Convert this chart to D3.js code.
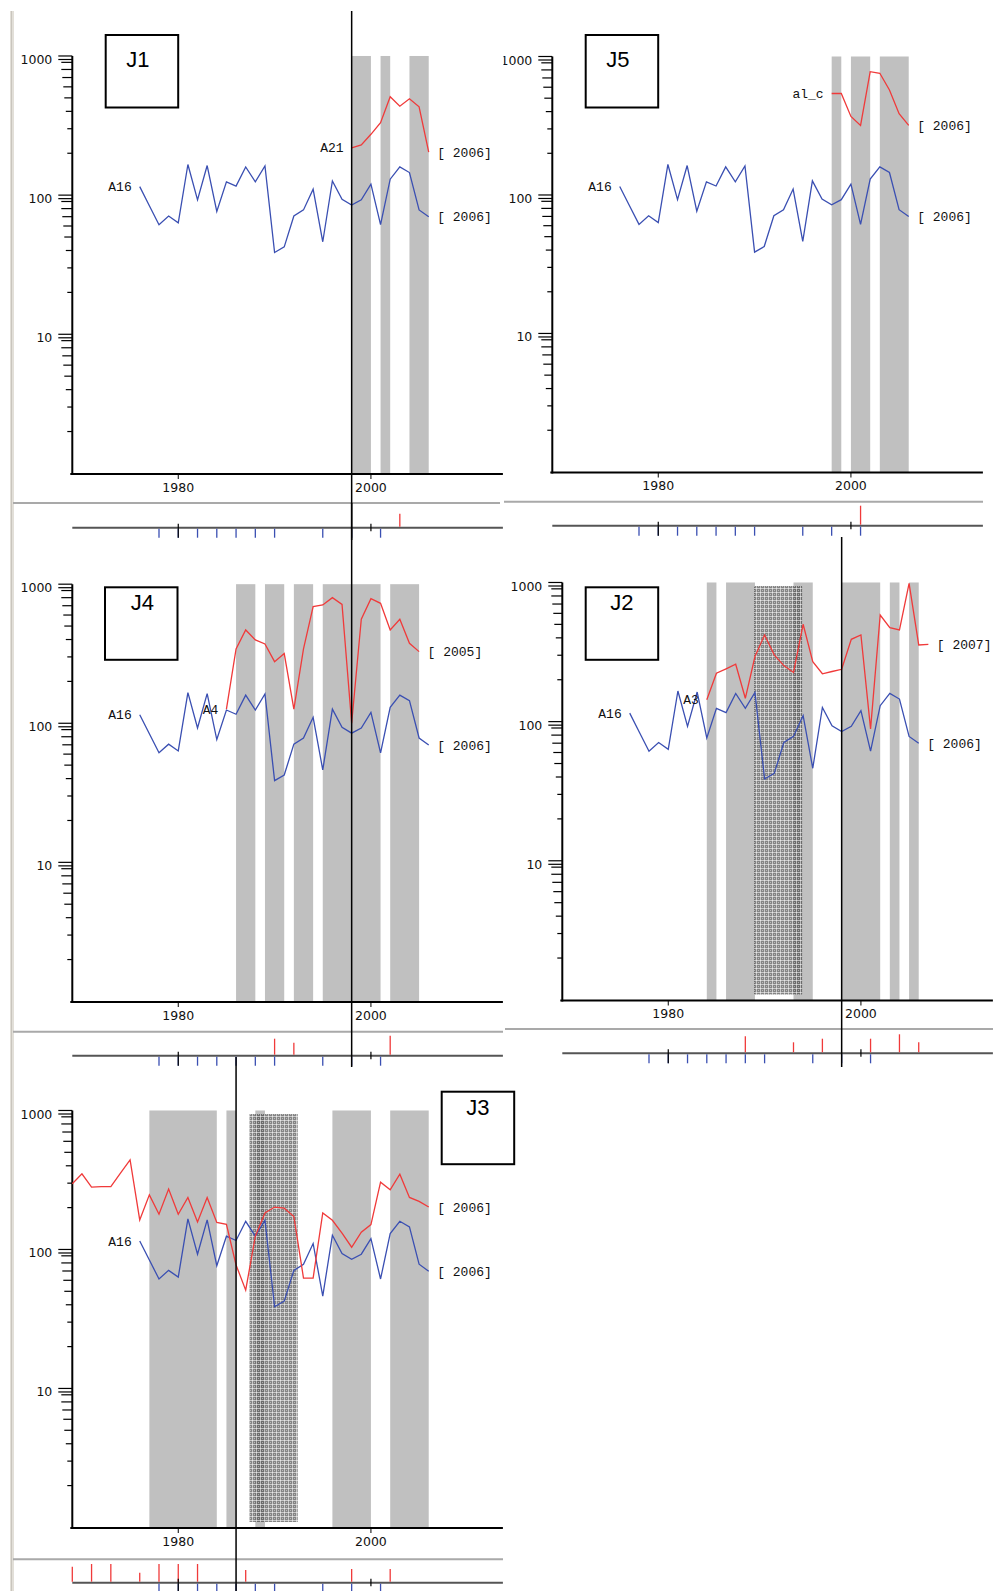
<!DOCTYPE html>
<html>
<head>
<meta charset="utf-8">
<script src="https://cdn.jsdelivr.net/npm/d3@7"></script>
<style>
  body { margin: 0; background: #fff; overflow: hidden; }
  .mono { font-family: "Liberation Mono", "DejaVu Sans Mono", monospace; font-size: 13px; fill: #111; }
  .tick-label { font-family: "DejaVu Sans", sans-serif; font-size: 12.5px; fill: #111; }
  .box-label { font-family: "Liberation Sans", Arial, sans-serif; font-size: 22px; fill: #000; }
</style>
</head>
<body>
<div id="chart"></div>
<script>
// ---- data ----
const xDomain = [1969, 2013.7];
const xTicks = [1980, 2000];
const yMajor = [10, 100, 1000];
const yMinorSteps = [2, 3, 4, 5, 6, 7, 8, 9];

// common series (1976-2006)
const a16Start = 1976;
const a16 = [122, 89, 65, 75, 67, 176, 98, 173, 81, 132, 123, 169, 132, 172, 41, 45,
  75, 83, 117, 49, 134, 99, 90, 98, 127, 65, 138, 169, 154, 83, 74];

const a21Start = 1998;
const a21 = [232, 243, 290, 351, 540, 462, 522, 457, 216];

const alcStart = 1998;
const alc = [573, 573, 391, 337, 824, 802, 608, 409, 337];

const a4Start = 1985;
const a4 = [134, 363, 497, 421, 394, 294, 336, 134, 363, 731, 751, 848, 759, 106,
  593, 834, 772, 497, 593, 398, 347];

const a3Start = 1984;
const a3 = [152, 236, 254, 274, 156, 311, 445, 320, 268, 239, 531, 286, 234, 243,
  252, 414, 445, 94, 619, 502, 483, 1045, 377, 381];

const j3RedStart = 1969;
const j3Red = [315, 371, 298, 300, 300, 375, 468, 173, 262, 190, 288, 190, 251, 167,
  251, 166, 161, 82, 54, 132, 194, 214, 210, 183, 66, 66, 194, 172, 139, 110, 141,
  160, 323, 285, 369, 251, 235, 214];

// shaded periods [from, to]
const bandsJ1 = [[1998, 2000], [2001, 2002], [2004, 2006]];
const bandsJ5 = [[1998, 1999], [2000, 2002], [2003, 2006]];
const bandsJ4 = [[1986, 1988], [1989, 1991], [1992, 1994], [1995, 2001], [2002, 2005]];
const bandsJ2 = [[1984, 1985], [1986, 1989], [1993, 1995], [1998, 2002], [2003, 2004], [2005, 2006]];
const bandsJ3 = [[1977, 1984], [1985, 1986], [1988, 1989], [1996, 2000], [2002, 2006]];
const hatchJ2 = [1988.9, 1993.9];
const hatchJ3 = [1987.4, 1992.4];

// event strips
const blueEvents = [1978, 1980, 1982, 1984, 1986, 1988, 1990, 1995, 1998, 2001];
const blackEvents = [1980, 2000];
const redJ1 = [[2003, 14]];
const redJ5 = [[2001, 20]];
const redJ4 = [[1990, 17], [1992, 13], [2002, 20]];
const redJ2 = [[1988, 17], [1993, 11], [1996, 14.6], [2001, 14.6], [2004, 19], [2006, 11]];
const redJ3 = [[1969, 16], [1971, 18.7], [1973, 18.7], [1976, 10], [1978, 18.7], [1980, 18.7],
  [1982, 18.7], [1987, 12.7], [1998, 13.7], [2002, 13.7]];

const bandTop = 1060;
const yBottom = 1.05;
const hatchBottom = 1.16;
const tickShift = 1.06;

const blue = '#3a4fb2';
const red = '#f03a3a';

const toSeries = (start, vals) => vals.map((v, i) => ({ year: start + i, value: v }));

const panels = [
  { name: 'J1', dx: 0, y1000: 59.5, yBot: 474, box: [105.7, 35], boxDx: -4, boxDy: 31.7,
    series: [
      { label: 'A16', color: blue, data: toSeries(a16Start, a16) },
      { label: 'A21', color: red, data: toSeries(a21Start, a21) }],
    bands: bandsJ1, hatch: null, red: redJ1,
    sep: { y: 503, x0: 13, x1: 500 }, stripY: 527.7, marker: { year: 1998, y0: 11, y1: 540 } },
  { name: 'J5', dx: 480, y1000: 60, yBot: 472.5, box: [585.7, 35], boxDx: -4, boxDy: 31.7, clip: true,
    series: [
      { label: 'A16', color: blue, data: toSeries(a16Start, a16) },
      { label: 'al_c', color: red, data: toSeries(alcStart, alc) }],
    bands: bandsJ5, hatch: null, red: redJ5,
    sep: { y: 501.7, x0: 504, x1: 983 }, stripY: 525.7, marker: null },
  { name: 'J4', dx: 0, y1000: 587.7, yBot: 1002, box: [105, 587.3], boxDx: 1, boxDy: 23,
    series: [
      { label: 'A16', color: blue, data: toSeries(a16Start, a16) },
      { label: 'A4', color: red, data: toSeries(a4Start, a4) }],
    bands: bandsJ4, hatch: null, red: redJ4,
    sep: { y: 1031.7, x0: 13, x1: 503 }, stripY: 1055.7, marker: { year: 1998, y0: 503, y1: 1067 } },
  { name: 'J2', dx: 490, y1000: 586, yBot: 1000.5, box: [585.7, 587.3], boxDx: 0, boxDy: 23, clip: true,
    series: [
      { label: 'A16', color: blue, data: toSeries(a16Start, a16) },
      { label: 'A3', color: red, data: toSeries(a3Start, a3) }],
    bands: bandsJ2, hatch: hatchJ2, red: redJ2,
    sep: { y: 1029, x0: 505, x1: 993 }, stripY: 1053.3, marker: { year: 1998, y0: 537, y1: 1067 } },
  { name: 'J3', dx: 0, y1000: 1114, yBot: 1528, box: [441.7, 1091.7], boxDx: 0, boxDy: 23,
    series: [
      { label: 'A16', color: blue, data: toSeries(a16Start, a16) },
      { label: null, color: red, data: toSeries(j3RedStart, j3Red) }],
    bands: bandsJ3, hatch: hatchJ3, red: redJ3,
    sep: { y: 1559.3, x0: 13, x1: 503 }, stripY: 1582.7, marker: { year: 1986, y0: 1057, y1: 1591 } }
];

const $svg = d3.select('#chart').append('svg')
  .attr('width', 993)
  .attr('height', 1591);

const defs = $svg.append('defs');
const pat = defs.append('pattern')
  .attr('id', 'hatch')
  .attr('width', 4).attr('height', 4)
  .attr('patternUnits', 'userSpaceOnUse');
pat.append('rect').attr('width', 4).attr('height', 4).attr('fill', 'rgba(50,50,50,0.6)');
pat.append('rect').attr('width', 1).attr('height', 4).attr('fill', 'rgba(255,255,255,0.55)');
pat.append('rect').attr('width', 4).attr('height', 1).attr('fill', 'rgba(255,255,255,0.55)');
pat.append('rect').attr('x', 2).attr('y', 2).attr('width', 1).attr('height', 1).attr('fill', 'rgba(255,255,255,0.45)');

defs.append('clipPath').attr('id', 'clipR')
  .append('rect').attr('x', 503.5).attr('y', 0).attr('width', 490).attr('height', 1591);

// left window border
$svg.append('rect').attr('x', 10).attr('y', 11).attr('width', 4).attr('height', 1580).attr('fill', '#e2dfd8');
$svg.append('line').attr('x1', 11.5).attr('x2', 11.5).attr('y1', 11).attr('y2', 1591)
  .attr('stroke', '#c9c5bd').attr('stroke-width', 1);

const minorLen = d3.scaleOrdinal().domain(yMinorSteps).range([5, 5, 6.5, 8, 9, 10, 11, 11]);
const redLen = d3.scaleLinear().domain([0, 20]).range([0, 20]);

function drawPanel(p) {
  const g = $svg.append('g').attr('clip-path', p.clip ? 'url(#clipR)' : null);

  const x = d3.scaleLinear().domain(xDomain).range([72.3 + p.dx, 502.9 + p.dx]);
  const y = d3.scaleLog().domain([yBottom, 1000]).range([p.yBot, p.y1000]);
  const x0 = x(xDomain[0]);

  // shaded periods
  g.append('g').selectAll('rect')
    .data(p.bands)
    .join('rect')
    .attr('x', d => x(d[0]))
    .attr('width', d => x(d[1]) - x(d[0]))
    .attr('y', y(bandTop))
    .attr('height', y(yBottom) - y(bandTop))
    .attr('fill', '#c0c0c0');

  if (p.hatch) {
    g.append('rect')
      .attr('x', x(p.hatch[0]))
      .attr('width', x(p.hatch[1]) - x(p.hatch[0]))
      .attr('y', y(1000))
      .attr('height', y(hatchBottom) - y(1000))
      .attr('fill', 'url(#hatch)');
  }

  // y axis
  g.append('line')
    .attr('x1', x0).attr('x2', x0)
    .attr('y1', y(bandTop)).attr('y2', y(yBottom) + 1)
    .attr('stroke', '#000').attr('stroke-width', 2);

  const yTicks = [];
  yMajor.forEach(m => {
    yTicks.push({ v: m, len: 14 });
    yTicks.push({ v: m * tickShift, len: 14 });
    yMinorSteps.forEach(k => yTicks.push({ v: k * m / 10 * tickShift, len: minorLen(k) }));
  });
  g.append('g').selectAll('line')
    .data(yTicks)
    .join('line')
    .attr('x1', d => x0 - d.len).attr('x2', x0)
    .attr('y1', d => y(d.v)).attr('y2', d => y(d.v))
    .attr('stroke', '#000').attr('stroke-width', 1.2);

  g.append('g').selectAll('text')
    .data(yMajor)
    .join('text')
    .attr('class', 'tick-label')
    .attr('x', x0 - 20)
    .attr('y', d => y(d))
    .attr('dy', '0.36em')
    .attr('text-anchor', 'end')
    .text(d => d);

  // x axis
  g.append('line')
    .attr('x1', x0 - 2).attr('x2', x(xDomain[1]))
    .attr('y1', y(yBottom)).attr('y2', y(yBottom))
    .attr('stroke', '#000').attr('stroke-width', 2);

  g.append('g').selectAll('line')
    .data(xTicks)
    .join('line')
    .attr('x1', d => x(d)).attr('x2', d => x(d))
    .attr('y1', y(yBottom)).attr('y2', y(yBottom) + 5)
    .attr('stroke', '#000').attr('stroke-width', 1);

  g.append('g').selectAll('text')
    .data(xTicks)
    .join('text')
    .attr('class', 'tick-label')
    .attr('x', d => x(d))
    .attr('y', y(yBottom) + 13)
    .attr('dy', '0.36em')
    .attr('text-anchor', 'middle')
    .text(d => d);

  // series
  const line = d3.line()
    .x(d => x(d.year))
    .y(d => y(d.value));

  p.series.forEach(s => {
    g.append('path')
      .datum(s.data)
      .attr('d', line)
      .attr('fill', 'none')
      .attr('stroke', s.color)
      .attr('stroke-width', 1.3);

    const first = s.data[0];
    const last = s.data[s.data.length - 1];
    if (s.label) {
      g.append('text')
        .attr('class', 'mono')
        .attr('x', x(first.year) - 8)
        .attr('y', y(first.value))
        .attr('dy', '0.35em')
        .attr('text-anchor', 'end')
        .text(s.label);
    }
    g.append('text')
      .attr('class', 'mono')
      .attr('x', x(last.year) + 8.5)
      .attr('y', y(last.value))
      .attr('dy', '0.35em')
      .attr('xml:space', 'preserve')
      .style('white-space', 'pre')
      .text(`[ ${last.year}]`);
  });

  // name box
  g.append('rect')
    .attr('x', p.box[0]).attr('y', p.box[1])
    .attr('width', 72.5).attr('height', 72.5)
    .attr('fill', 'none')
    .attr('stroke', '#000').attr('stroke-width', 2);
  g.append('text')
    .attr('class', 'box-label')
    .attr('x', p.box[0] + 36.25 + p.boxDx)
    .attr('y', p.box[1] + p.boxDy)
    .attr('text-anchor', 'middle')
    .text(p.name);

  // separator
  g.append('line')
    .attr('x1', p.sep.x0).attr('x2', p.sep.x1)
    .attr('y1', p.sep.y).attr('y2', p.sep.y)
    .attr('stroke', '#a9a9a9').attr('stroke-width', 2);

  // event strip
  const sy = p.stripY;
  g.append('line')
    .attr('x1', x0).attr('x2', x(xDomain[1]))
    .attr('y1', sy).attr('y2', sy)
    .attr('stroke', '#555').attr('stroke-width', 2);

  g.append('g').selectAll('line')
    .data(blueEvents)
    .join('line')
    .attr('x1', d => x(d)).attr('x2', d => x(d))
    .attr('y1', sy + 1).attr('y2', sy + 10)
    .attr('stroke', blue).attr('stroke-width', 1.3);

  g.append('g').selectAll('line')
    .data(p.red)
    .join('line')
    .attr('x1', d => x(d[0])).attr('x2', d => x(d[0]))
    .attr('y1', sy - 1).attr('y2', d => sy - redLen(d[1]))
    .attr('stroke', red).attr('stroke-width', 1.3);

  g.append('g').selectAll('line')
    .data(blackEvents)
    .join('line')
    .attr('x1', d => x(d)).attr('x2', d => x(d))
    .attr('y1', sy - 4).attr('y2', (d, i) => i === 0 ? sy + 10 : sy + 3.5)
    .attr('stroke', '#000').attr('stroke-width', 1.2);

  // vertical marker
  if (p.marker) {
    g.append('line')
      .attr('x1', x(p.marker.year)).attr('x2', x(p.marker.year))
      .attr('y1', p.marker.y0).attr('y2', p.marker.y1)
      .attr('stroke', '#000').attr('stroke-width', 1.5);
  }
}

panels.forEach(drawPanel);
</script>
</body>
</html>
